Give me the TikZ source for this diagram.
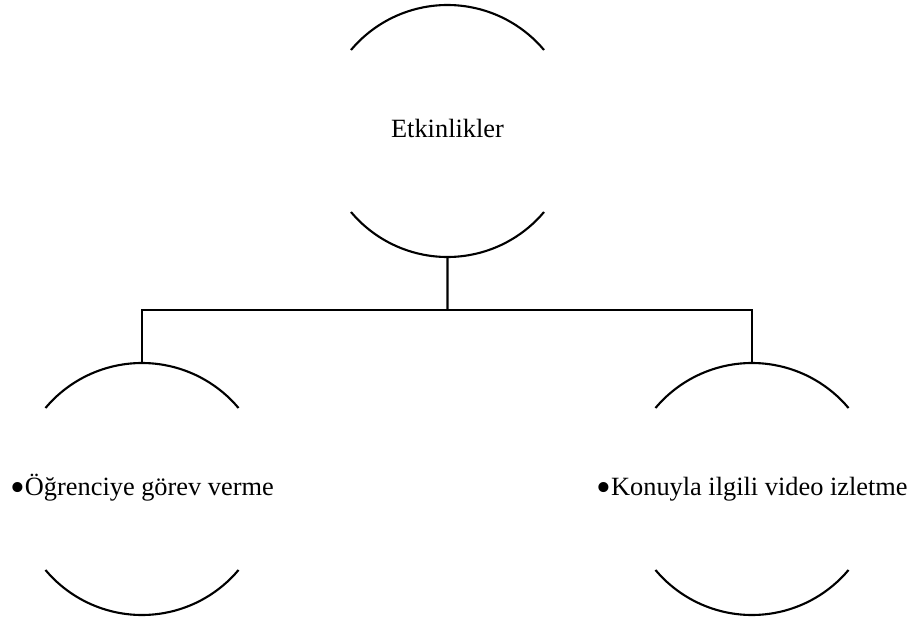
\documentclass[tikz,border=0pt]{standalone}
\usepackage{fontspec}
\setmainfont{Liberation Serif}
\usetikzlibrary{calc}
\newcommand{\itemdot}{\raisebox{-0.55ex}{\scalebox{1.6}{•}}}

\begin{document}
\begin{tikzpicture}[font=\fontsize{15pt}{18pt}\selectfont, line width=1.2pt, label/.style={inner sep=0pt, text height=10pt, text depth=3pt, align=center}]
\useasboundingbox (0,0) rectangle (18.26,12.4);
\def\rad{2.52cm}
\node[label] (etk) at (8.95,9.78) {Etkinlikler};
\node[label] (gorev) at (2.84,2.62) {\itemdot Öğrenciye görev verme};
\node[label] (video) at (15.04,2.62) {\itemdot Konuyla ilgili video izletme};
% open rings round each label
\foreach \n in {etk,gorev,video}{
  \draw ([shift={(140:\rad)}]\n.center) arc[start angle=140, end angle=40, radius=\rad];
  \draw ([shift={(220:\rad)}]\n.center) arc[start angle=220, end angle=320, radius=\rad];
  \coordinate (\n-top) at ([yshift=\rad]\n.center);
  \coordinate (\n-bot) at ([yshift=-\rad]\n.center);
}
\coordinate (bar) at ($(etk-bot)!0.5!(etk-bot |- gorev-top)$);
\draw (etk-bot) -- (bar);
\draw (gorev-top) |- (bar) -| (video-top);
\end{tikzpicture}
\end{document}
